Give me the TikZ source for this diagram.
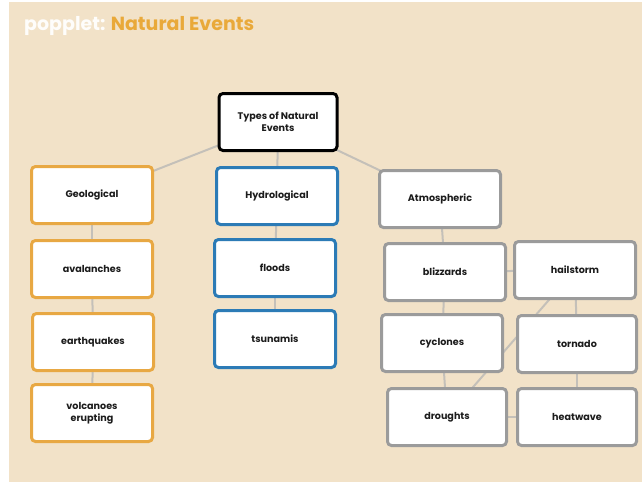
\documentclass[tikz,border=0pt]{standalone}
\usepackage{fontspec}
\setmainfont{Poppins}
\usetikzlibrary{backgrounds}
\definecolor{beige}{HTML}{F2E2C8}
\definecolor{orng}{HTML}{E8A843}
\definecolor{blu}{HTML}{2C7BB6}
\definecolor{gry}{HTML}{9B9B9B}
\definecolor{lin}{HTML}{C4C0B9}
\definecolor{ttl}{HTML}{E9A93A}
\definecolor{txt}{HTML}{1C1C1C}
\tikzset{
  box/.style={rectangle, rounded corners=4pt, line width=3pt, fill=white,
    minimum width=121pt, minimum height=57pt, align=center, inner sep=2pt,
    font=\fontsize{9.6}{12}\selectfont\bfseries, text=txt},
  obox/.style={box, draw=orng},
  bbox/.style={box, draw=blu},
  gbox/.style={box, draw=gry},
  kbox/.style={box, draw=black},
  link/.style={draw=lin, line width=2pt}
}
\begin{document}
\begin{tikzpicture}[x=1pt,y=-1pt]
\useasboundingbox (0,0) rectangle (642,483);
\node[kbox, minimum width=118pt] (root) at (278,122) {Types of Natural\\Events};
\node[obox] (geo) at (92,195) {Geological};
\node[obox] (aval) at (92,269) {avalanches};
\node[obox] (earth) at (93,342) {earthquakes};
\node[obox] (volc) at (92,413) {volcanoes\\erupting};
\node[bbox] (hydro) at (277,196) {Hydrological};
\node[bbox] (floods) at (275,268) {floods};
\node[bbox] (tsun) at (275,339) {tsunamis};
\node[gbox] (atmo) at (440,199) {Atmospheric};
\node[gbox] (bliz) at (445,272) {blizzards};
\node[gbox] (hail) at (575,270) {hailstorm};
\node[gbox] (cycl) at (442,343) {cyclones};
\node[gbox, minimum width=119pt] (torn) at (577,344) {tornado};
\node[gbox, minimum width=119pt] (drou) at (447,417) {droughts};
\node[gbox, minimum width=119pt] (heat) at (577,417) {heatwave};
\node[anchor=west, inner sep=0pt, font=\fontsize{19}{22}\selectfont\bfseries] (title) at (24,26)
  {\textcolor{white!92!beige}{popplet:} \textcolor{ttl}{Natural Events}};
\begin{pgfonlayer}{background}
\fill[white] (0,0) rectangle (642,483);
\fill[beige] (9,2) rectangle (642,482);
\draw[link] (root.center) -- (geo.center);
\draw[link] (root.center) -- (hydro.center);
\draw[link] (root.center) -- (atmo.center);
\draw[link] (geo.center) -- (aval.center);
\draw[link] (aval.center) -- (earth.center);
\draw[link] (earth.center) -- (volc.center);
\draw[link] (hydro.center) -- (floods.center);
\draw[link] (floods.center) -- (tsun.center);
\draw[link] (atmo.center) -- (bliz.center);
\draw[link] (bliz.center) -- (hail.center);
\draw[link] (bliz.center) -- (cycl.center);
\draw[link] (hail.center) -- (torn.center);
\draw[link] (hail.center) -- (drou.center);
\draw[link] (cycl.center) -- (drou.center);
\draw[link] (torn.center) -- (heat.center);
\draw[link] (drou.center) -- (heat.center);
\end{pgfonlayer}
\end{tikzpicture}
\end{document}
